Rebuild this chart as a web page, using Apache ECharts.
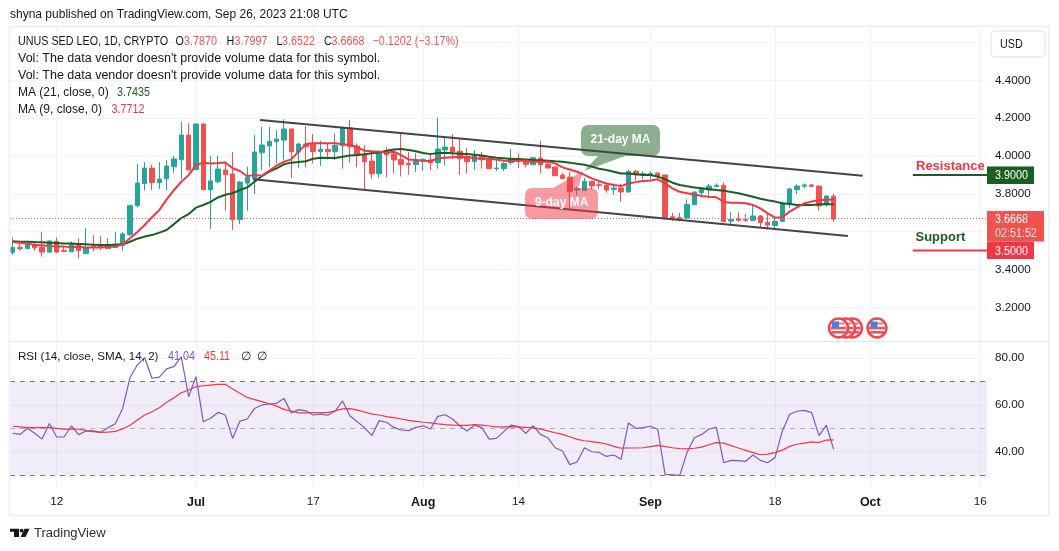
<!DOCTYPE html>
<html>
<head>
<meta charset="utf-8">
<title>UNUS SED LEO daily chart</title>
<script src="https://cdn.jsdelivr.net/npm/echarts@6/dist/echarts.min.js"></script>
<style>
  html, body { margin: 0; padding: 0; background: #fff; }
  #chart { width: 1059px; height: 551px; }
</style>
</head>
<body>
<div id="chart"></div>
<script>
// Daily candles, Jun 6 to Sep 26 2023; a candle's x is its day number counted from Jun 6.
const opens = [3.491,3.517,3.510,3.533,3.519,3.492,3.549,3.500,3.494,3.533,3.484,3.524,3.524,3.510,3.517,3.528,3.584,3.737,3.854,3.936,
  3.859,3.880,3.943,3.980,4.111,3.928,4.169,3.822,3.864,3.926,3.905,3.665,3.857,3.882,4.017,4.053,4.076,4.084,4.143,4.021,
  4.062,4.067,4.023,4.035,4.023,4.054,4.148,4.053,4.010,3.973,3.906,4.023,4.010,3.982,3.961,3.954,3.973,3.979,3.965,4.032,
  4.047,4.025,3.996,3.970,4.000,3.982,3.933,3.933,3.965,3.988,3.982,3.954,3.989,3.956,3.942,3.899,
  3.889,3.820,3.817,3.866,3.848,3.845,3.824,3.831,3.810,3.919,3.901,3.901,3.910,3.900,3.679,3.674,3.672,3.743,3.806,3.820,3.838,3.845,
  3.656,3.667,3.665,3.660,3.683,3.649,3.633,3.655,3.746,3.822,3.841,3.847,3.841,3.743,3.7870];
const highs = [3.570,3.547,3.549,3.547,3.598,3.554,3.570,3.524,3.549,3.565,3.619,3.581,3.577,3.566,3.598,3.598,3.739,3.958,3.968,3.954,
  3.968,3.979,4.000,4.180,4.173,4.175,4.175,4.000,4.000,3.972,4.021,3.869,3.943,4.111,4.155,4.155,4.137,4.194,4.143,4.070,
  4.158,4.116,4.081,4.067,4.120,4.155,4.190,4.067,4.056,4.021,4.028,4.046,4.035,4.120,4.021,4.014,3.989,4.010,4.204,4.102,
  4.116,4.095,4.042,4.032,4.021,3.993,3.989,3.968,4.037,4.014,3.986,3.993,4.081,3.970,3.942,3.912,
  3.917,3.838,3.884,3.866,3.866,3.859,3.855,3.852,3.929,3.926,3.919,3.919,3.915,3.900,3.700,3.700,3.771,3.813,3.831,3.852,3.855,3.861,
  3.702,3.702,3.693,3.736,3.688,3.697,3.674,3.760,3.831,3.850,3.855,3.852,3.845,3.792,3.7997];
const lows = [3.477,3.500,3.510,3.500,3.468,3.489,3.489,3.492,3.492,3.457,3.484,3.496,3.503,3.510,3.517,3.500,3.577,3.729,3.817,3.820,
  3.825,3.820,3.912,3.877,3.926,3.926,3.822,3.616,3.855,3.711,3.609,3.640,3.711,3.799,3.926,3.943,3.961,3.979,3.884,3.936,
  3.940,3.961,3.947,3.982,3.979,3.933,3.965,3.940,3.824,3.880,3.884,3.887,3.908,3.891,3.901,3.915,3.922,3.926,3.933,3.950,
  3.986,3.901,3.908,3.926,3.933,3.933,3.922,3.919,3.954,3.936,3.940,3.952,3.908,3.936,3.894,3.877,
  3.711,3.792,3.817,3.824,3.824,3.806,3.796,3.757,3.806,3.870,3.877,3.878,3.877,3.665,3.655,3.655,3.669,3.743,3.782,3.775,3.838,3.653,
  3.641,3.653,3.653,3.655,3.623,3.612,3.609,3.651,3.725,3.799,3.829,3.838,3.711,3.732,3.6522];
const closes = [3.517,3.510,3.535,3.514,3.492,3.551,3.492,3.496,3.535,3.500,3.515,3.521,3.521,3.526,3.533,3.588,3.739,3.857,3.936,3.859,
  3.878,3.947,3.984,4.111,3.926,4.169,3.822,3.868,3.931,3.901,3.665,3.862,3.889,4.021,4.058,4.077,4.090,4.143,4.023,4.063,
  4.049,4.023,4.035,4.023,4.056,4.148,4.049,4.005,3.970,3.906,4.021,4.007,3.979,3.954,3.954,3.973,3.982,3.965,4.037,4.047,
  4.021,3.986,3.970,4.000,3.980,3.933,3.936,3.961,3.988,3.973,3.956,3.991,3.954,3.936,3.896,3.880,
  3.811,3.827,3.866,3.841,3.845,3.820,3.831,3.810,3.919,3.901,3.907,3.907,3.894,3.676,3.672,3.670,3.744,3.810,3.824,3.841,3.845,3.653,
  3.665,3.660,3.660,3.683,3.648,3.635,3.655,3.750,3.826,3.841,3.847,3.840,3.736,3.788,3.6668];

// Moving averages of the close.
const ma21 = [3.549,3.547,3.547,3.545,3.544,3.542,3.540,3.538,3.537,3.535,3.533,3.531,3.529,3.529,3.531,3.533,3.547,3.563,3.574,3.582,
  3.595,3.609,3.640,3.672,3.693,3.727,3.741,3.758,3.781,3.795,3.803,3.820,3.834,3.864,3.894,3.917,3.935,3.956,3.965,3.968,
  3.972,3.986,3.991,3.989,3.989,3.996,4.003,4.005,4.009,4.014,4.019,4.028,4.035,4.037,4.032,4.025,4.016,4.010,4.016,4.017,
  4.014,4.012,4.010,4.007,4.003,3.996,3.991,3.988,3.984,3.984,3.982,3.979,3.977,3.975,3.972,3.970,
  3.965,3.959,3.954,3.944,3.933,3.926,3.917,3.908,3.907,3.903,3.900,3.900,3.891,3.877,3.859,3.847,3.840,3.834,3.829,3.824,3.820,3.817,
  3.810,3.803,3.794,3.785,3.774,3.766,3.759,3.750,3.746,3.741,3.741,3.741,3.744,3.746,3.7435];
const ma9 = [3.545,3.542,3.538,3.529,3.528,3.524,3.522,3.521,3.519,3.519,3.517,3.517,3.517,3.519,3.521,3.533,3.565,3.598,3.635,3.676,
  3.714,3.771,3.820,3.864,3.899,3.952,3.965,3.961,3.963,3.966,3.935,3.921,3.894,3.899,3.896,3.922,3.949,3.970,3.982,4.023,
  4.063,4.067,4.067,4.067,4.067,4.062,4.058,4.046,4.028,4.025,4.023,4.017,4.023,4.005,3.982,3.979,3.975,3.973,3.988,3.991,
  3.993,3.995,3.996,3.988,3.986,3.986,3.982,3.975,3.973,3.975,3.975,3.970,3.970,3.970,3.961,3.940,
  3.929,3.917,3.900,3.882,3.868,3.855,3.847,3.841,3.855,3.862,3.868,3.871,3.877,3.855,3.829,3.811,3.803,3.796,3.789,3.785,3.782,3.757,
  3.753,3.753,3.750,3.741,3.723,3.697,3.674,3.676,3.706,3.729,3.750,3.759,3.767,3.767,3.7712];

// Relative strength index and its moving average.
const rsi = [47.9,47.4,50.0,47.9,45.4,52.1,46.3,46.3,51.0,47.3,48.9,48.6,48.3,50.3,52.0,58.5,71.7,77.1,80.2,71.4,
  71.9,75.4,76.5,80.5,63.5,72.1,52.8,54.3,56.8,55.7,45.7,53.1,54.0,58.5,60.0,60.4,60.7,62.8,56.6,58.0,
  57.5,55.7,56.1,55.6,57.4,61.7,55.4,52.8,50.3,46.9,53.3,52.6,50.4,49.3,49.0,50.4,51.1,49.7,55.1,55.8,
  54.0,51.0,48.9,51.4,50.3,45.4,45.7,48.6,51.4,50.7,47.9,51.1,47.4,46.0,41.7,40.3,
  34.5,35.6,41.7,40.0,39.7,38.0,38.6,36.8,52.3,50.0,50.3,50.9,49.6,30.3,30.1,29.9,39.7,46.0,47.4,49.7,50.4,35.3,
  36.3,36.2,35.9,38.6,36.3,35.3,37.5,48.9,56.0,57.3,57.7,56.7,46.9,51.3,41.04];
const rsiSma = [50.9,50.6,50.3,50.3,50.3,50.3,50.0,49.7,49.7,49.6,49.1,48.9,48.3,48.4,48.7,49.7,51.3,53.6,55.7,57.1,
  58.8,61.1,63.1,65.2,66.4,67.8,68.2,68.5,68.8,68.8,66.8,65.0,63.2,62.3,61.4,60.5,59.5,58.1,57.4,56.6,
  56.6,56.7,56.7,56.7,57.5,58.3,58.4,57.8,57.0,56.1,55.7,55.0,54.6,54.0,53.4,53.0,52.6,52.3,51.9,51.6,
  51.4,51.3,51.3,51.6,51.4,51.0,50.6,50.6,50.7,50.6,50.4,50.3,49.7,48.9,48.1,47.4,
  46.4,45.3,44.7,44.3,43.9,43.3,42.3,41.5,41.6,41.6,41.7,42.2,42.7,42.2,41.7,41.3,41.2,41.5,42.0,43.0,43.9,43.7,
  42.6,41.6,40.6,39.6,38.7,39.0,39.6,40.7,42.3,43.2,43.7,44.2,43.9,45.0,45.11];

// Falling channel drawn over the candles: [day number, price] at each end.
const channelUpper = [[33.73, 4.190], [115.96, 3.896]];
const channelLower = [[32.78, 3.877], [113.95, 3.577]];

// Horizontal price levels.
const resistanceLevel = 3.9;
const supportLevel = 3.5;
const levelStartDay = 122.8;

// Axis ticks: day numbers for Jun 12, Jul 1, Jul 17, Aug 1, Aug 14, Sep 1, Sep 18, Oct 1, Oct 16.
const dateTickDays = [6, 25, 41, 56, 69, 87, 104, 117, 132];
const dateTickLabels = ['12', 'Jul', '17', 'Aug', '14', 'Sep', '18', 'Oct', '16'];
const boldDateLabels = ['Jul', 'Aug', 'Sep', 'Oct'];
const priceGridLines = [3.2, 3.4, 3.6, 3.8, 4.0, 4.2, 4.4, 4.6];
const priceLabels = [3.2, 3.4, 3.8, 4.0, 4.2, 4.4];
const rsiGridLines = [40, 60, 80];

const days = closes.map((_, i) => i);
const last = days.length - 1;
const dayMin = -0.371;
const dayMax = 132.92;

const UP = '#26a69a', DOWN = '#ef5350', MA21_GREEN = '#1b5e20', RED = '#f23645', PURPLE = '#7e57c2';
const FONT = '"Liberation Sans", Arial, sans-serif';
const INK = '#131722', GRID = '#f0f3fa';

const pairs = (values) => values.map((v, i) => [i, v]);

const chart = echarts.init(document.getElementById('chart'), null, { renderer: 'canvas' });

function xAxisOf(gridIndex, withLabels) {
  return {
    type: 'value', gridIndex, min: dayMin, max: dayMax,
    axisLine: { show: false },
    axisTick: { show: false, customValues: dateTickDays },
    splitLine: { show: true, lineStyle: { color: GRID, width: 1 } },
    axisLabel: withLabels ? {
      show: true, customValues: dateTickDays, margin: 8, hideOverlap: false,
      color: INK, fontFamily: FONT, fontSize: 11.7,
      formatter: (v) => {
        const t = dateTickLabels[dateTickDays.indexOf(v)];
        return boldDateLabels.includes(t) ? '{b|' + t + '}' : t;
      },
      rich: { b: { fontWeight: 'bold', fontSize: 12.5, fontFamily: FONT, color: INK } }
    } : { show: false }
  };
}

function yAxisOf(gridIndex, min, max, gridLines, labels, digits) {
  return {
    type: 'value', gridIndex, position: 'right', min, max, scale: true,
    axisLine: { show: false },
    axisTick: { show: false, customValues: gridLines },
    splitLine: { show: true, lineStyle: { color: GRID, width: 1 } },
    axisLabel: {
      show: true, customValues: labels, margin: 8, hideOverlap: false,
      color: INK, fontFamily: FONT, fontSize: 11.7,
      formatter: (v) => v.toFixed(digits)
    }
  };
}

chart.setOption({
  animation: false,
  backgroundColor: '#ffffff',
  grid: [
    { left: 10, top: 27, width: 977, height: 314 },
    { left: 10, top: 342, width: 977, height: 146 }
  ],
  xAxis: [xAxisOf(0, false), xAxisOf(1, true)],
  yAxis: [
    yAxisOf(0, 3.0221, 4.682, priceGridLines, priceLabels, 4),
    yAxisOf(1, 24.5, 86.9, rsiGridLines, rsiGridLines, 2)
  ],
  series: [
    {
      type: 'candlestick', xAxisIndex: 0, yAxisIndex: 0, barWidth: 5, silent: true,
      data: days.map((d) => [d, opens[d], closes[d], lows[d], highs[d]]),
      itemStyle: { color: UP, color0: DOWN, borderColor: UP, borderColor0: DOWN, borderWidth: 1 },
      markLine: {
        silent: true, symbol: 'none', label: { show: false }, animation: false,
        lineStyle: { color: DOWN, type: [1, 2], width: 1 },
        data: [{ yAxis: closes[last] }]
      }
    },
    {
      type: 'line', xAxisIndex: 0, yAxisIndex: 0, data: pairs(ma21), showSymbol: false, silent: true, z: 4,
      lineStyle: { color: MA21_GREEN, width: 2 }
    },
    {
      type: 'line', xAxisIndex: 0, yAxisIndex: 0, data: pairs(ma9), showSymbol: false, silent: true, z: 4,
      lineStyle: { color: RED, width: 2 }
    },
    {
      type: 'line', xAxisIndex: 0, yAxisIndex: 0, data: channelUpper, showSymbol: false, silent: true, z: 5,
      lineStyle: { color: '#43444c', width: 2 }
    },
    {
      type: 'line', xAxisIndex: 0, yAxisIndex: 0, data: channelLower, showSymbol: false, silent: true, z: 5,
      lineStyle: { color: '#43444c', width: 2 }
    },
    {
      type: 'line', xAxisIndex: 0, yAxisIndex: 0, data: [[levelStartDay, resistanceLevel], [dayMax, resistanceLevel]],
      showSymbol: false, silent: true, z: 5, lineStyle: { color: MA21_GREEN, width: 2 }
    },
    {
      type: 'line', xAxisIndex: 0, yAxisIndex: 0, data: [[levelStartDay, supportLevel], [dayMax, supportLevel]],
      showSymbol: false, silent: true, z: 5, lineStyle: { color: RED, width: 2 }
    },
    {
      type: 'line', xAxisIndex: 1, yAxisIndex: 1, data: pairs(rsi), showSymbol: false, silent: true, z: 4,
      lineStyle: { color: PURPLE, width: 1.2 },
      markArea: {
        silent: true, animation: false,
        itemStyle: { color: 'rgba(126,87,194,0.11)' },
        data: [[{ yAxis: 70 }, { yAxis: 30 }]]
      },
      markLine: {
        silent: true, symbol: 'none', label: { show: false }, animation: false,
        data: [
          { yAxis: 70, lineStyle: { color: '#787b86', type: [5, 5], width: 1 } },
          { yAxis: 50, lineStyle: { color: 'rgba(120,123,134,0.55)', type: [5, 5], width: 1 } },
          { yAxis: 30, lineStyle: { color: '#787b86', type: [5, 5], width: 1 } }
        ]
      }
    },
    {
      type: 'line', xAxisIndex: 1, yAxisIndex: 1, data: pairs(rsiSma), showSymbol: false, silent: true, z: 5,
      lineStyle: { color: RED, width: 1.2 }
    }
  ]
});

// Text, tags and callouts sit above the plot.
const label = (x, y, text, fill, font) => ({
  type: 'text', x, y, z: 100, silent: true,
  style: { text, fill: fill || INK, font: font || ('13px ' + FONT), verticalAlign: 'middle' }
});
// Numbers and capitals run condensed in this legend, so their text is squeezed horizontally.
const tight = (x, y, text, fill) => Object.assign(label(x, y, text, fill, '12.5px ' + FONT), { scaleX: 0.86 });
const box = (x, y, w, h, fill, r) => ({
  type: 'rect', z: 99, silent: true, shape: { x, y, width: w, height: h, r: r || 0 }, style: { fill }
});
const priceY = (p) => chart.convertToPixel({ yAxisIndex: 0 }, p);

function flag(cx, cy, z) {
  const bar = (x, y, w, h, fill) => ({
    type: 'rect', z, silent: true, shape: { x: cx + x, y: cy + y, width: w, height: h }, style: { fill }
  });
  return [
    { type: 'circle', z, silent: true, shape: { cx, cy, r: 9.5 }, style: { fill: '#fff', stroke: '#f0444f', lineWidth: 2.4 } },
    bar(-6, -5.5, 12, 2, '#f2727c'),
    bar(-8, -1.2, 16, 2.6, '#f0535f'),
    bar(-7, 3, 14, 2.6, '#f0535f'),
    bar(-6.5, -6.5, 7, 6, '#3b82ea')
  ];
}

const resistanceY = priceY(resistanceLevel), supportY = priceY(supportLevel), closeY = priceY(closes[last]);
const legendRows = [41.7, 58.7, 75.7, 93, 110];
const white = '#ffffff';
const TEXT_12 = '12px ' + FONT, TEXT_12_5 = '12.5px ' + FONT;

chart.setOption({
  graphic: [
    // outer frame and pane separator
    { type: 'rect', z: 90, silent: true, shape: { x: 9.5, y: 26.5, width: 1039.5, height: 489 },
      style: { fill: 'none', stroke: '#eff1f6', lineWidth: 2 } },
    { type: 'line', z: 90, silent: true, shape: { x1: 10, y1: 341.5, x2: 1049, y2: 341.5 },
      style: { stroke: '#e4e6ee', lineWidth: 1 } },

    label(10, 15, 'shyna published on TradingView.com, Sep 26, 2023 21:08 UTC', INK, TEXT_12),

    // OHLC legend
    tight(18, legendRows[0], 'UNUS SED LEO, 1D, CRYPTO'),
    tight(175.5, legendRows[0], 'O'), tight(184, legendRows[0], '3.7870', DOWN),
    tight(226.5, legendRows[0], 'H'), tight(234.5, legendRows[0], '3.7997', DOWN),
    tight(276.5, legendRows[0], 'L'), tight(282, legendRows[0], '3.6522', DOWN),
    tight(324, legendRows[0], 'C'), tight(331.5, legendRows[0], '3.6668', DOWN),
    tight(372.5, legendRows[0], '\u22120.1202 (\u22123.17%)', DOWN),
    label(18, legendRows[1], "Vol: The data vendor doesn't provide volume data for this symbol.", INK, TEXT_12_5),
    label(18, legendRows[2], "Vol: The data vendor doesn't provide volume data for this symbol.", INK, TEXT_12_5),
    label(18, legendRows[3], 'MA (21, close, 0)', INK, TEXT_12), tight(117, legendRows[3], '3.7435', MA21_GREEN),
    label(18, legendRows[4], 'MA (9, close, 0)', INK, TEXT_12), tight(111.5, legendRows[4], '3.7712', RED),

    // RSI legend
    label(18, 356.7, 'RSI (14, close, SMA, 14, 2)', INK, '11.6px ' + FONT),
    tight(168, 356.7, '41.04', PURPLE), tight(204, 356.7, '45.11', RED),
    label(240.5, 356.7, '\u2205', INK, TEXT_12), label(257, 356.7, '\u2205', INK, TEXT_12),

    // currency button
    { type: 'rect', z: 100, silent: true, shape: { x: 991, y: 31, width: 54, height: 26, r: 4 },
      style: { fill: '#fff', stroke: '#eceef4', lineWidth: 2 } },
    tight(1000, 44.5, 'USD'),

    // price tags on the axis
    box(987, resistanceY - 8.5, 47, 17.5, MA21_GREEN), tight(995, resistanceY + 0.5, resistanceLevel.toFixed(4), white),
    box(987, closeY - 8, 57, 30.5, DOWN),
    tight(995, closeY + 0.5, closes[last].toFixed(4), white),
    tight(995, closeY + 14.5, '02:51:52', '#fde3e3'),
    box(987, supportY - 9, 47, 17.5, RED), tight(995, supportY + 0.5, supportLevel.toFixed(4), white),

    // level captions
    label(916, resistanceY - 8.5, 'Resistance', RED, 'bold 13px ' + FONT),
    label(915.5, supportY - 13, 'Support', MA21_GREEN, 'bold 13px ' + FONT),

    // moving average callouts
    { type: 'group', z: 98, silent: true, children: [
      { type: 'polygon', z: 98, silent: true, shape: { points: [[598, 156], [625, 156], [584, 171]] },
        style: { fill: 'rgba(27,94,32,0.5)' } },
      { type: 'rect', z: 98, silent: true, shape: { x: 581, y: 125, width: 79, height: 31, r: 7 },
        style: { fill: 'rgba(27,94,32,0.5)' } }
    ] },
    { type: 'group', z: 98, silent: true, children: [
      { type: 'polygon', z: 98, silent: true, shape: { points: [[553, 188], [578, 188], [583, 171]] },
        style: { fill: 'rgba(242,54,69,0.5)' } },
      { type: 'rect', z: 98, silent: true, shape: { x: 525, y: 188, width: 73, height: 31, r: 7 },
        style: { fill: 'rgba(242,54,69,0.5)' } }
    ] },
    label(590.5, 139.5, '21-day MA', white, 'bold 12px ' + FONT),
    label(535, 203, '9-day MA', white, 'bold 12px ' + FONT),

    // calendar event badges, left one on top
    ...flag(877, 328, 101),
    ...flag(852.5, 328, 101),
    ...flag(845.5, 328, 102),
    ...flag(838.5, 328, 103),

    // wordmark
    { type: 'polygon', z: 100, silent: true,
      shape: { points: [[10, 528.7], [19, 528.7], [19, 537], [14, 537], [14, 531.8], [10, 531.8]] }, style: { fill: INK } },
    { type: 'circle', z: 100, silent: true, shape: { cx: 21.5, cy: 530.6, r: 1.9 }, style: { fill: INK } },
    { type: 'polygon', z: 100, silent: true,
      shape: { points: [[24.5, 528.7], [29.5, 528.7], [25.5, 537], [20.5, 537]] }, style: { fill: INK } },
    label(34, 533, 'TradingView', '#2a2e39', '13px ' + FONT)
  ]
});
</script>
</body>
</html>
